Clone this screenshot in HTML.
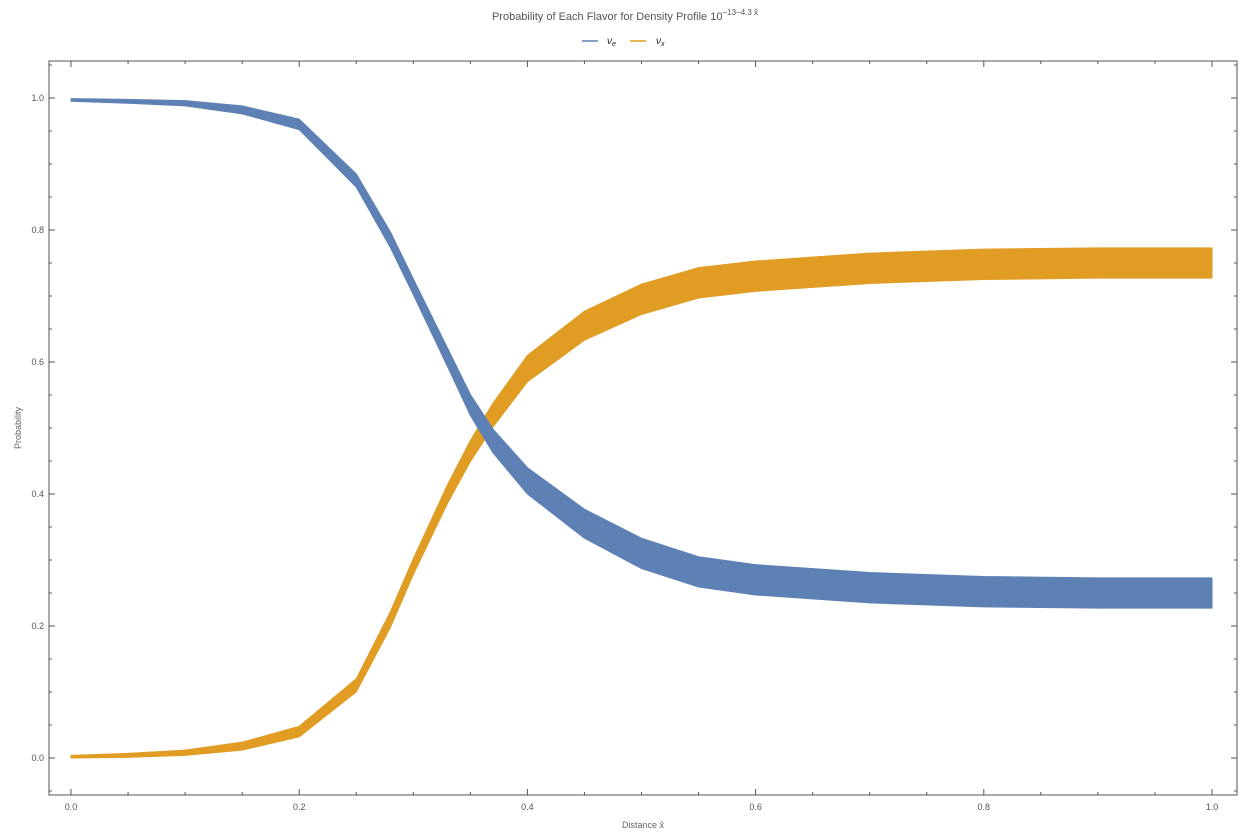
<!DOCTYPE html>
<html><head><meta charset="utf-8"><style>
body{margin:0;background:#fff;}
svg text{font-family:"Liberation Sans",sans-serif;}
</style></head><body>
<svg id="chart" width="1251" height="834" xmlns="http://www.w3.org/2000/svg">
<text x="625" y="20" text-anchor="middle" font-size="11" fill="#555">Probability of Each Flavor for Density Profile 10<tspan dy="-5" font-size="8">−13−4.3 x̂</tspan></text>
<g>
<line x1="582" y1="41" x2="598" y2="41" stroke="#5e81b5" stroke-width="1.5"/>
<text x="607" y="44" font-size="10" font-style="italic" fill="#222">ν<tspan font-size="7" dy="2">e</tspan></text>
<line x1="630" y1="41" x2="646" y2="41" stroke="#e19c24" stroke-width="1.5"/>
<text x="656" y="44" font-size="10" font-style="italic" fill="#222">ν<tspan font-size="7" dy="2">x</tspan></text>
</g>
<g id="axes"></g>
<g id="series"></g>
<text x="643" y="828" text-anchor="middle" font-size="9" fill="#666">Distance x̂</text>
<text transform="translate(21,428) rotate(-90)" text-anchor="middle" font-size="9" fill="#666">Probability</text>
</svg>
<script>
const xSamples=[0,0.05,0.1,0.15,0.2,0.25,0.28,0.3,0.33,0.35,0.37,0.4,0.45,0.5,0.55,0.6,0.7,0.8,0.9,1.0];
const nuE=[0.997,0.995,0.992,0.982,0.96,0.875,0.785,0.714,0.607,0.535,0.48,0.42,0.355,0.31,0.282,0.27,0.258,0.252,0.25,0.25];
const nuEAmp=[0.002,0.003,0.004,0.006,0.008,0.01,0.012,0.012,0.014,0.016,0.018,0.02,0.022,0.023,0.023,0.023,0.023,0.023,0.023,0.023];
const nuX=[0.002,0.004,0.008,0.018,0.04,0.11,0.21,0.29,0.40,0.465,0.52,0.59,0.655,0.695,0.72,0.73,0.742,0.748,0.75,0.75];
const nuXAmp=[0.002,0.003,0.004,0.006,0.008,0.01,0.012,0.012,0.014,0.016,0.018,0.02,0.022,0.023,0.023,0.023,0.023,0.023,0.023,0.023];
const xTicks=["0.0","0.2","0.4","0.6","0.8","1.0"];
const yTicks=["0.0","0.2","0.4","0.6","0.8","1.0"];
const X=v=>71+v*1141, Y=v=>758-v*660;
const NS="http://www.w3.org/2000/svg";
const axes=document.getElementById('axes'), ser=document.getElementById('series');
function mk(p,tag,a){const e=document.createElementNS(NS,tag);for(const k in a)e.setAttribute(k,a[k]);p.appendChild(e);return e;}
const frame=mk(axes,'rect',{x:49,y:61,width:1188,height:734,fill:'none',stroke:'#555','stroke-width':1});


for(let i=-1;i<=21;i++){const v=i*0.05;const big=i%4===0;
 const px=X(v); if(px>49&&px<1237){mk(axes,'line',{x1:px,y1:795,x2:px,y2:795-(big?6:3),stroke:'#555'});mk(axes,'line',{x1:px,y1:61,x2:px,y2:61+(big?6:3),stroke:'#555'});}
 const py=Y(v); if(py>61&&py<795){mk(axes,'line',{x1:49,y1:py,x2:49+(big?6:3),y2:py,stroke:'#555'});mk(axes,'line',{x1:1237,y1:py,x2:1237-(big?6:3),y2:py,stroke:'#555'});}}
xTicks.forEach(t=>{const e=mk(axes,'text',{x:X(+t),y:810,'text-anchor':'middle','font-size':9,fill:'#555'});e.textContent=t;

});
yTicks.forEach(t=>{const e=mk(axes,'text',{x:44,y:Y(+t)+3,'text-anchor':'end','font-size':9,fill:'#555'});e.textContent=t;

});
function band(vals,amps,color,name){
 let up=xSamples.map((x,i)=>X(x)+','+Y(vals[i]+amps[i]));
 let lo=xSamples.map((x,i)=>X(x)+','+Y(vals[i]-amps[i])).reverse();
 const p=mk(ser,'polygon',{points:up.concat(lo).join(' '),fill:color,stroke:color,'stroke-width':1,'stroke-linejoin':'round'});
 
 
}
band(nuX,nuXAmp,'#e19c24','series-nu-x');
band(nuE,nuEAmp,'#5e81b5','series-nu-e');
</script>
</body></html>
